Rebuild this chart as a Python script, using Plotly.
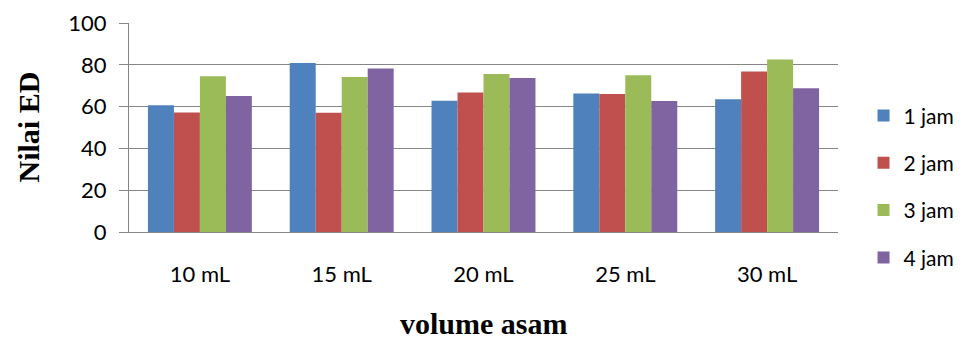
import plotly.graph_objects as go

categories = ["10 mL", "15 mL", "20 mL", "25 mL", "30 mL"]
series_names = ["1 jam", "2 jam", "3 jam", "4 jam"]
jam1 = [60.6, 80.9, 62.8, 66.3, 63.5]
jam2 = [57.2, 57.1, 66.8, 66.0, 76.8]
jam3 = [74.5, 74.2, 75.6, 75.0, 82.5]
jam4 = [65.1, 78.2, 73.7, 62.7, 68.8]
colors = ["#4F81BD", "#C0504D", "#9BBB59", "#8064A2"]
y_ticks = [0, 20, 40, 60, 80, 100]

# page body has an 8px margin; compensate so the plot lands where the reference has it
W, H = 956, 332
L, R, T, B = 121, 126, 15, 108

fig = go.Figure()
for i, (name, vals) in enumerate(zip(series_names, [jam1, jam2, jam3, jam4])):
    fig.add_trace(go.Bar(
        x=categories, y=vals, name=name,
        marker=dict(color=colors[i], line=dict(width=0)),
        legendgroup=name,
    ))

tick_font = dict(family="Lato, 'Open Sans', sans-serif", size=22, color="#000000")
legend_font = dict(family="Lato, 'Open Sans', sans-serif", size=21, color="#000000")
title_font = dict(family="Liberation Serif, 'Times New Roman', serif", size=30, color="#000000")

fig.update_layout(
    width=W, height=H,
    margin=dict(l=L, r=R, t=T, b=B, autoexpand=False),
    paper_bgcolor="white", plot_bgcolor="white",
    barmode="group", bargap=0.267, bargroupgap=0,
    showlegend=True,
    legend=dict(
        x=1.036, xanchor="left", y=0.216, yanchor="middle",
        font=legend_font, tracegroupgap=17, itemwidth=30,
        bgcolor="rgba(0,0,0,0)", borderwidth=0,
    ),
    xaxis=dict(
        showgrid=False, showline=True, linecolor="#868686", linewidth=1.3,
        ticks="", tickfont=tick_font, ticklabelstandoff=22,
        zeroline=False,
    ),
    yaxis=dict(
        range=[0, 100], tickvals=y_ticks, showgrid=True, gridcolor="#868686",
        gridwidth=1.3, showline=True, linecolor="#868686", linewidth=1.3,
        ticks="outside", ticklen=9, tickcolor="#868686", tickwidth=1.3,
        tickfont=tick_font, ticklabelstandoff=8, zeroline=False,
    ),
    annotations=[
        dict(text="<b>volume asam</b>", xref="paper", yref="paper", x=0.5, y=0,
             xanchor="center", yanchor="middle", yshift=-91, showarrow=False,
             font=title_font),
        dict(text="<b>Nilai ED</b>", xref="paper", yref="paper", x=0, y=0.5,
             xanchor="center", yanchor="middle", xshift=-101, textangle=-90, showarrow=False,
             font=title_font),
    ],
)

fig.write_html("out.html")
